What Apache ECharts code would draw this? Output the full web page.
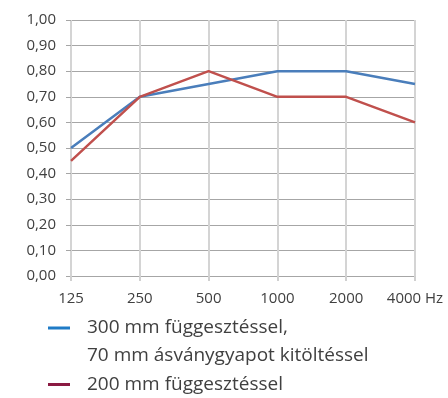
<!DOCTYPE html>
<html><head><meta charset="utf-8">
<script src="https://cdn.jsdelivr.net/npm/echarts@6/dist/echarts.min.js"></script>
<style>html,body{margin:0;padding:0;background:#fff}#c{width:448px;height:398px}</style>
</head><body><div id="c"></div>
<script>
var categories = ['125','250','500','1000','2000','4000 Hz'];
var seriesNames = ['300 mm függesztéssel,\n70 mm ásványgyapot kitöltéssel','200 mm függesztéssel'];
var blueValues = [0.50,0.70,0.75,0.80,0.80,0.75];
var redValues = [0.45,0.70,0.80,0.70,0.70,0.60];

var FONT = '"Open Sans", "Noto Sans", sans-serif';
var lineColors = ['#4a7ebb','#c0504d'];
var legendColors = ['#1f7bc6','#8b1a42'];

var chart = echarts.init(document.getElementById('c'));
var legendGraphics = [];
var ly = [328, 384.5];
seriesNames.forEach(function(n,i){
  legendGraphics.push({type:'rect', shape:{x:48,y:ly[i]-1.5,width:22,height:3}, style:{fill:legendColors[i]}});
  legendGraphics.push({type:'text', x:87, y:ly[i]-14, style:{text:n, font:'19px '+FONT, fill:'#404040', lineHeight:28, verticalAlign:'top'}});
});
chart.setOption({
  animation:false,
  grid:{left:71,right:33,top:20,bottom:122},
  xAxis:{type:'category', data:categories, boundaryGap:false,
    axisLine:{lineStyle:{color:'#a6a6a6',width:1}},
    axisTick:{show:true,interval:0,length:5,lineStyle:{color:'#d0d0d0',width:2}},
    axisLabel:{interval:0,hideOverlap:false,color:'#404040',fontSize:15,fontFamily:FONT,margin:15},
    splitLine:{show:true,interval:0,lineStyle:{color:'#d4d4d4',width:2}}},
  yAxis:{type:'value', min:0, max:1, interval:0.1,
    axisLine:{show:false},
    axisTick:{show:true,length:5,lineStyle:{color:'#a6a6a6'}},
    axisLabel:{color:'#404040',fontSize:15,fontFamily:FONT,margin:15,
      formatter:function(v){return v.toFixed(2).replace('.',',');}},
    splitLine:{show:true,lineStyle:{color:'#a6a6a6',width:1}}},
  series:[
    {name:seriesNames[0],type:'line',data:blueValues,symbol:'none',lineStyle:{color:lineColors[0],width:2.5},z:3},
    {name:seriesNames[1],type:'line',data:redValues,symbol:'none',lineStyle:{color:lineColors[1],width:2.5},z:4}
  ],
  graphic:legendGraphics
});
</script></body></html>
